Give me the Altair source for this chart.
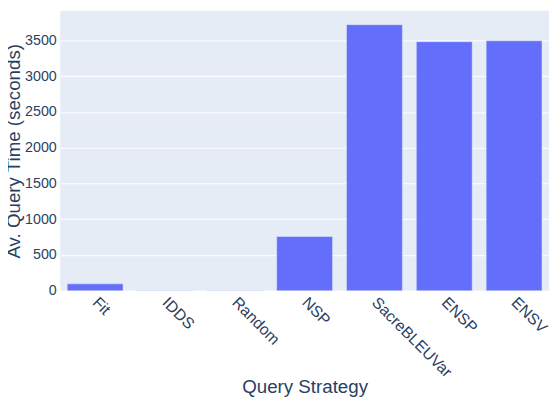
import altair as alt
import pandas as pd

strategies = ["Fit", "IDDS", "Random", "NSP", "SacreBLEUVar", "ENSP", "ENSV"]
times = [96, 4, 2, 758, 3720, 3482, 3495]
y_ticks = [0, 500, 1000, 1500, 2000, 2500, 3000, 3500]

df = pd.DataFrame({"strategy": strategies, "time": times})

FONT = "Liberation Sans"
TXT = "#2a3f5f"

chart = alt.Chart(df).mark_bar(
    color="#636EFA", stroke="#E5ECF6", strokeWidth=0.5
).encode(
    x=alt.X("strategy:N", sort=strategies,
            scale=alt.Scale(paddingInner=0.2, paddingOuter=0.1),
            axis=alt.Axis(title="Query Strategy", labelAngle=45, labelAlign="left",
                          labelBaseline="middle", labelFontSize=16, labelColor=TXT,
                          labelFont=FONT, labelPadding=9, ticks=False, domain=False,
                          titleFont=FONT, titleFontSize=19, titleColor=TXT,
                          titleFontWeight="normal", titleY=97, titleBaseline="middle",
                          grid=False, labelOverlap=False)),
    y=alt.Y("time:Q", scale=alt.Scale(domain=[0, 3913], nice=False),
            axis=alt.Axis(title="Av. Query Time (seconds)", values=y_ticks, format="d",
                          labelFontSize=14.5, labelColor=TXT, labelFont=FONT,
                          labelPadding=4, ticks=False, domain=False,
                          gridColor="white", gridWidth=1,
                          titleFont=FONT, titleFontSize=19, titleColor=TXT,
                          titleFontWeight="normal", titleX=-47, titleBaseline="middle")),
).properties(
    width=496, height=284,
    autosize=alt.AutoSizeParams(type="none"),
    padding={"left": 53, "top": 0, "right": 0, "bottom": 108},
).configure_view(
    fill="#E5ECF6", stroke=None
)

chart.save("out.html", embed_options={"renderer": "svg", "actions": False})
